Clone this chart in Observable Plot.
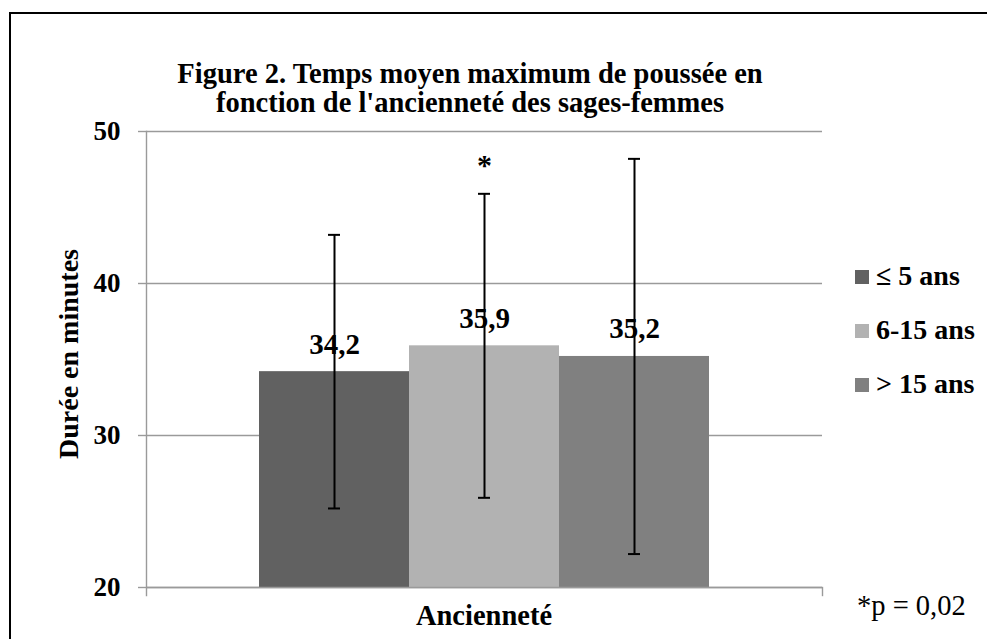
<!DOCTYPE html>
<html>
<head>
<meta charset="utf-8">
<script src="https://cdn.jsdelivr.net/npm/d3@7"></script>
<script src="https://cdn.jsdelivr.net/npm/@observablehq/plot@0.6"></script>
<style>
  html, body { margin: 0; padding: 0; background: #fff; }
  #wrap { position: relative; width: 987px; height: 639px; overflow: hidden; font-family: "Liberation Serif", "Times New Roman", serif; color: #000; }
  #border { position: absolute; left: 9px; top: 12px; width: 1000px; height: 700px; border-left: 2px solid #000; border-top: 2px solid #000; box-sizing: border-box; }
  #chart { position: absolute; left: 0; top: 0; }
  .t { position: absolute; white-space: nowrap; font-weight: bold; }
  #title { left: 0; width: 940px; top: 59px; text-align: center; font-size: 28.5px; line-height: 29px; }
  #ylab { left: 69px; top: 354px; font-size: 28px; line-height: 28px; transform: translate(-50%, -50%) rotate(-90deg); }
  #xlab { left: 484px; top: 602px; font-size: 28.5px; transform: translateX(-50%); line-height: 28px; }
  #note { left: 857px; top: 592px; font-size: 28.5px; font-weight: normal; line-height: 28px; }
  .li { position: absolute; left: 855px; height: 28px; display: flex; align-items: flex-start; font-size: 28px; line-height: 28px; font-weight: bold; white-space: nowrap; }
  .sw { width: 14px; height: 14px; margin-top: 8px; margin-right: 7px; flex: none; }
</style>
</head>
<body>
<div id="wrap">
  <div id="chart"></div>
  <div id="border"></div>
  <div id="title" class="t">Figure 2. Temps moyen maximum de poussée en<br>fonction de l'ancienneté des sages-femmes</div>
  <div id="ylab" class="t">Durée en minutes</div>
  <div id="xlab" class="t">Ancienneté</div>
  <div id="note" class="t">*p = 0,02</div>
</div>
<script>
// ---- data ----
const series = ["≤ 5 ans", "6-15 ans", "> 15 ans"];
const means = [34.2, 35.9, 35.2];
const valueLabels = ["34,2", "35,9", "35,2"];
const errLow = [25.2, 25.9, 22.2];
const errHigh = [43.2, 45.9, 48.2];
const significance = ["", "*", ""];
const colors = ["#616161", "#b2b2b2", "#808080"];
const yTicks = [20, 30, 40, 50];
const yDomain = [20, 50];

const rows = series.map((s, i) => ({
  series: s, mean: means[i], label: valueLabels[i],
  low: errLow[i], high: errHigh[i], sig: significance[i]
}));

const plot = Plot.plot({
  width: 987,
  height: 639,
  marginLeft: 146,
  marginRight: 165,
  marginTop: 131,
  marginBottom: 52,
  style: { fontFamily: '"Liberation Serif", "Times New Roman", serif', fontSize: "27px", fontWeight: "bold", background: "transparent", overflow: "visible" },
  x: { domain: series, paddingInner: 0, paddingOuter: 0.7533, axis: null },
  y: { domain: yDomain, axis: null },
  color: { domain: series, range: colors },
  marks: [
    Plot.ruleY(yTicks, { stroke: "#9a9a9a", strokeWidth: 1.4 }),
    Plot.barY(rows, { x: "series", y1: yDomain[0], y2: "mean", fill: "series" }),
    Plot.ruleY([yDomain[0]], { stroke: "#9a9a9a", strokeWidth: 1.4 }),
    Plot.axisY({ ticks: yTicks, tickFormat: d3.format("d"), tickSize: 8, tickPadding: 18, stroke: "#9a9a9a", strokeWidth: 1.4, fill: "#000", fontSize: 27, fontWeight: "bold" }),
    Plot.frame({ anchor: "left", stroke: "#9a9a9a", strokeWidth: 1.4, insetBottom: -8 }),
    Plot.frame({ anchor: "right", stroke: "#9a9a9a", strokeWidth: 1.4, insetTop: 456, insetBottom: -8 }),
    Plot.ruleX(rows, { x: "series", y1: "low", y2: "high", stroke: "#000", strokeWidth: 2 }),
    Plot.tickY(rows, { x: "series", y: "low", stroke: "#000", strokeWidth: 2, insetLeft: 69, insetRight: 69 }),
    Plot.tickY(rows, { x: "series", y: "high", stroke: "#000", strokeWidth: 2, insetLeft: 69, insetRight: 69 }),
    Plot.text(rows, { x: "series", y: "mean", text: "label", lineAnchor: "bottom", dy: -18, fontSize: 29, fontWeight: "bold", fill: "#000" }),
    Plot.text(rows, { x: "series", y: "high", text: "sig", lineAnchor: "bottom", dy: -19, fontSize: 30, fontWeight: "bold", fill: "#000" })
  ]
});
document.getElementById("chart").appendChild(plot);

const wrap = document.getElementById("wrap");
series.forEach((s, i) => {
  const row = document.createElement("div");
  row.className = "li";
  row.style.top = (262 + i * 54) + "px";
  const sw = document.createElement("span");
  sw.className = "sw";
  sw.style.background = colors[i];
  const tx = document.createElement("span");
  tx.textContent = s;
  row.appendChild(sw);
  row.appendChild(tx);
  wrap.appendChild(row);
});
</script>
</body>
</html>
